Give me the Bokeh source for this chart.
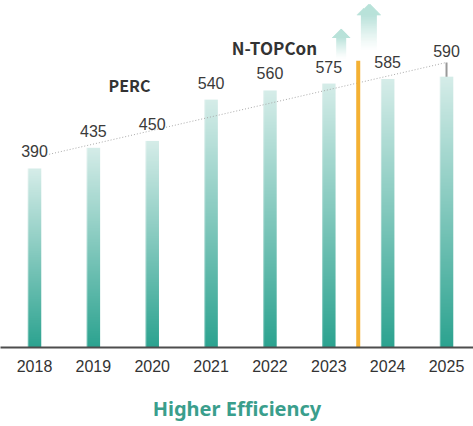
import numpy as np
from bokeh.plotting import figure
from bokeh.models import Range1d, FixedTicker, ColumnDataSource
from bokeh.core.properties import value
from bokeh.embed import file_html
from bokeh.resources import INLINE

# ---------------- data ----------------
years = [2018, 2019, 2020, 2021, 2022, 2023, 2024, 2025]
power = [390, 435, 450, 540, 560, 575, 585, 590]
tech_labels = ["PERC", "N-TOPCon"]
switch_year = 2023.5          # PERC -> N-TOPCon transition
switch_top = 625
trend_x = [2018.15, 2025]
trend_y = [418, 621]
arrow_x = [2023.21, 2023.68]
arrow_tip = [694, 748]
arrow_tail = [628, 646]
x_title = "Higher Efficiency"

# ---------------- figure ----------------
W, H = 473, 426
BOTTOM = 79
FRAME_H = H - BOTTOM
px_x = 58.86
px_y = 0.459
X0 = 2018 - 34 / px_x
X1 = X0 + W / px_x
Y0, Y1 = 0, FRAME_H / px_y

p = figure(width=W, height=H, x_range=Range1d(X0, X1), y_range=Range1d(Y0, Y1),
           output_backend="svg", toolbar_location=None, y_axis_location=None,
           min_border_left=0, min_border_right=0, min_border_top=0,
           min_border_bottom=BOTTOM, outline_line_color=None,
           background_fill_color="white", border_fill_color="white")
p.grid.visible = False

ax = p.xaxis[0]
ax.ticker = FixedTicker(ticks=years)
ax.major_label_overrides = {y: str(y) for y in years}
ax.major_tick_line_color = None
ax.minor_tick_line_color = None
ax.axis_line_color = "#4d4d4d"
ax.axis_line_width = 2
ax.major_label_standoff = 6
ax.major_label_text_font = "Liberation Sans"
ax.major_label_text_font_size = "16px"
ax.major_label_text_color = "#333333"
ax.axis_label = x_title
ax.axis_label_standoff = 20
ax.axis_label_text_font = "Noto Sans"
ax.axis_label_text_font_size = "20px"
ax.axis_label_text_font_style = "bold"
ax.axis_label_text_color = "#3a9e8c"


def pack(rgba):
    h, w, _ = rgba.shape
    img = np.empty((h, w), dtype=np.uint32)
    v = img.view(dtype=np.uint8).reshape((h, w, 4))
    v[:, :, :] = rgba
    return img


# ---------------- gradient bars ----------------
bar_w_px = 13.5
bot = np.array([44, 163, 144], float)
top = np.array([214, 237, 233], float)
nr, nc = 256, 14
f = np.linspace(0, 1, nr)[:, None]
col = bot[None, :] * (1 - f) + top[None, :] * f
rgba = np.zeros((nr, nc, 4))
rgba[:, :, :3] = col[:, None, :]
for c in (0, nc - 1):
    rgba[:, c, :3] = rgba[:, c, :3] * 0.7 + 255 * 0.3
rgba[:, :, 3] = 255
bar_img = pack(rgba.astype(np.uint8))

bw = bar_w_px / px_x
bars = ColumnDataSource(dict(image=[bar_img] * len(years),
                             x=[y - bw / 2 for y in years],
                             y=[0] * len(years),
                             dw=[bw] * len(years),
                             dh=power))
p.image_rgba(image="image", x="x", y="y", dw="dw", dh="dh", source=bars)

# ---------------- arrows ----------------
def arrow_img(head_w, shaft_w, head_h, total_h, s=4):
    hh = int(round(total_h * s))
    ww = int(round(head_w * s))
    t = (np.arange(hh) + 0.5) / s
    u = (np.arange(ww) + 0.5) / s - head_w / 2
    T, U = np.meshgrid(t, u, indexing="ij")
    head = (T < head_h) & (np.abs(U) <= head_w / 2 * T / head_h)
    shaft = (T >= head_h) & (np.abs(U) <= shaft_w / 2)
    frac = np.clip((T - head_h) / (total_h - head_h), 0, 1)
    alpha = np.where(head, 0.92, np.where(shaft, 0.9 * (1 - frac) ** 1.2, 0.0))
    out = np.zeros((hh, ww, 4))
    out[:, :, 0] = 178
    out[:, :, 1] = 223
    out[:, :, 2] = 214
    out[:, :, 3] = alpha * 255
    return pack(np.flipud(out).astype(np.uint8).copy())

head_ws = [18, 26]
shaft_ws = [10.7, 16]
head_hs = [9, 12.3]
imgs, xs, dws, dhs = [], [], [], []
for i in range(len(arrow_x)):
    total = (arrow_tip[i] - arrow_tail[i]) * px_y
    imgs.append(arrow_img(head_ws[i], shaft_ws[i], head_hs[i], total))
    dw = head_ws[i] / px_x
    xs.append(arrow_x[i] - dw / 2)
    dws.append(dw)
    dhs.append(arrow_tip[i] - arrow_tail[i])
p.image_rgba(image=imgs, x=xs, y=arrow_tail, dw=dws, dh=dhs)

# ---------------- trend line, marker, switch line ----------------
p.line(trend_x, trend_y, line_color="#aaaaaa", line_width=1, line_dash="1 2")
p.segment(x0=[years[-1]], y0=[power[-1]], x1=[years[-1]], y1=[trend_y[-1]],
          line_color="#999999", line_width=2)
p.segment(x0=[switch_year], y0=[0], x1=[switch_year], y1=[switch_top],
          line_color="#f4b133", line_width=4)

# ---------------- value labels ----------------
lab_y = list(power)
lab_y[-1] = trend_y[-1]
offs = [-17] * (len(power) - 1) + [-11]
p.text(x=years, y=lab_y, text=[str(v) for v in power], y_offset=offs,
       text_align="center", text_baseline="middle",
       text_font=value("Liberation Sans"), text_font_size="16px",
       text_color="#3a3a3a")

# ---------------- technology labels ----------------
p.text(x=[2019.614, 2022.077], y=[571, 653.6], text=tech_labels,
       text_align="center", text_baseline="middle",
       text_font=value("Noto Sans CJK SC"), text_font_style="bold",
       text_font_size=["16px", "17px"], text_color="#333333")

open("out.html", "w").write(file_html(p, INLINE))
